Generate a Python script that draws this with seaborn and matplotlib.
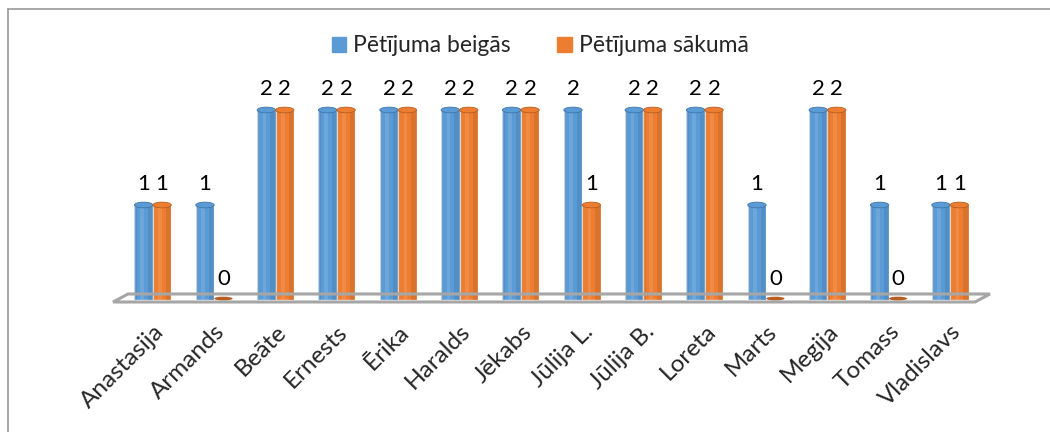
import matplotlib
matplotlib.use("Agg")
import matplotlib.pyplot as plt
import seaborn as sns
import pandas as pd
import numpy as np
from matplotlib.patches import Ellipse, Polygon
from matplotlib.lines import Line2D

categories = ["Anastasija", "Armands", "Beāte", "Ernests", "Ērika", "Haralds", "Jēkabs",
              "Jūlija L.", "Jūlija B.", "Loreta", "Marts", "Megija", "Tomass", "Vladislavs"]
beigas = [1, 1, 2, 2, 2, 2, 2, 2, 2, 2, 1, 2, 1, 1]
sakuma = [1, 0, 2, 2, 2, 2, 2, 1, 2, 2, 0, 2, 0, 1]
series_names = ["Pētījuma beigās", "Pētījuma sākumā"]
colors = ["#5B9BD5", "#ED7D31"]

df = pd.DataFrame({
    "name": categories * 2,
    "value": beigas + sakuma,
    "series": [series_names[0]] * len(categories) + [series_names[1]] * len(categories),
})

sns.set_theme(style="white")
plt.rcParams["font.family"] = ["Lato", "DejaVu Sans"]

W, H = 1050, 432
fig = plt.figure(figsize=(W / 100, H / 100), dpi=100)
ax = fig.add_axes([113 / W, (H - 300) / H, 877 / W, 220 / H])

sns.barplot(data=df, x="name", y="value", hue="series", palette=colors,
            width=0.6, ax=ax, legend=False, saturation=1)

ax.set_xlim(-0.65, 13.65)
ax.set_ylim(0, 220 / 95)
for s in ax.spines.values():
    s.set_visible(False)
ax.set_yticks([])
ax.set_xlabel("")
ax.set_ylabel("")
ax.tick_params(axis="x", length=0, pad=15)
ax.set_xticks(range(len(categories)))
ax.set_xticklabels(categories, rotation=45, ha="right", rotation_mode="anchor", fontsize=17.5)

dark = ["#3F76A8", "#B85E22"]
light = ["#8DBCE6", "#F7A56B"]
# cylinder shading and tops
for ci, cont in enumerate(ax.containers):
    for bar in cont:
        x0 = bar.get_x()
        w = bar.get_width()
        h = bar.get_height()
        if h > 0:
            ax.add_patch(plt.Rectangle((x0 + w * 0.72, 0), w * 0.28, h,
                                       color=dark[ci], alpha=0.35, lw=0, zorder=3))
            ax.add_patch(plt.Rectangle((x0, 0), w * 0.12, h,
                                       color=dark[ci], alpha=0.3, lw=0, zorder=3))
            ax.add_patch(plt.Rectangle((x0 + w * 0.3, 0), w * 0.2, h,
                                       color=light[ci], alpha=0.35, lw=0, zorder=3))
            ax.add_patch(Ellipse((x0 + w / 2, h), w, 0.06, color=colors[ci],
                                 ec=dark[ci], lw=0.6, zorder=4))
        else:
            ax.add_patch(Ellipse((x0 + w / 2, 0.015), w, 0.04, color=dark[ci],
                                 lw=0, zorder=4, clip_on=False))
    ax.bar_label(cont, labels=[str(int(b.get_height())) for b in cont],
                 padding=8, fontsize=16, color="black")

# floor platform
floor = Polygon([(113 / W, (H - 302) / H), (975 / W, (H - 302) / H),
                 (990 / W, (H - 294) / H), (128 / W, (H - 294) / H)],
                closed=True, fill=False, ec="#A6A6A6", lw=2.2,
                transform=fig.transFigure, zorder=1)
fig.add_artist(floor)

# outer border
fig.add_artist(Line2D([8 / W, 8 / W], [0, (H - 9) / H], color="#999999", lw=1.2,
                      transform=fig.transFigure))
fig.add_artist(Line2D([8 / W, 1], [(H - 9) / H, (H - 9) / H], color="#999999", lw=1.2,
                      transform=fig.transFigure))

# legend
handles = [plt.Rectangle((0, 0), 1, 1, color=c) for c in colors]
fig.legend(handles, series_names, loc="center", bbox_to_anchor=(540 / W, (H - 46) / H),
           ncol=2, frameon=False, fontsize=16.5, handlelength=0.65, handleheight=0.65,
           handletextpad=0.3, columnspacing=2.0)

fig.savefig("out.png", dpi=100)
